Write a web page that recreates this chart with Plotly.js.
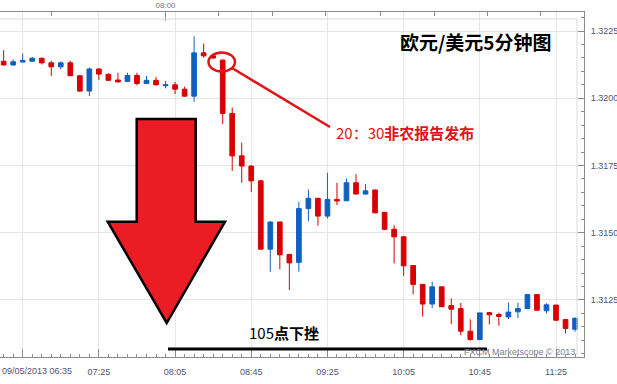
<!DOCTYPE html>
<html>
<head>
<meta charset="utf-8">
<script src="https://cdn.plot.ly/plotly-3.0.1.min.js"></script>
<style>
  html, body { margin: 0; padding: 0; background: #fff; }
  #chart { width: 617px; height: 384px; }
</style>
</head>
<body>
<div id="chart"></div>
<script>
// EUR/USD 5-minute bars, 9 May 2013
const day = '2013-05-09';
const times = [
  '06:35','06:40','06:45','06:50','06:55','07:00','07:05','07:10','07:15','07:20',
  '07:25','07:30','07:35','07:40','07:45','07:50','07:55','08:00','08:05','08:10',
  '08:15','08:20','08:25','08:30','08:35','08:40','08:45','08:50','08:55','09:00',
  '09:05','09:10','09:15','09:20','09:25','09:30','09:35','09:40','09:45','09:50',
  '09:55','10:00','10:05','10:10','10:15','10:20','10:25','10:30','10:35','10:40',
  '10:45','10:50','10:55','11:00','11:05','11:10','11:15','11:20','11:25','11:30',
  '11:35'
];
const open = [
  1.32138,1.32124,1.32135,1.32138,1.32149,1.32132,1.32117,1.32132,1.32084,1.32027,
  1.32109,1.32089,1.32068,1.32063,1.32085,1.32055,1.32067,1.32047,1.32050,1.32034,
  1.32008,1.32169,1.32158,1.32142,1.31944,1.31786,1.31748,1.31693,1.31439,1.31540,
  1.31419,1.31390,1.31590,1.31628,1.31562,1.31624,1.31619,1.31686,1.31644,1.31659,
  1.31576,1.31513,1.31485,1.31378,1.31308,1.31235,1.31299,1.31229,1.31218,1.31134,
  1.31103,1.31203,1.31196,1.31187,1.31206,1.31218,1.31270,1.31210,1.31231,1.31177,
  1.31141
];
const high = [
  1.32179,1.32145,1.32167,1.32154,1.32151,1.32140,1.32137,1.32140,1.32086,1.32114,
  1.32111,1.32093,1.32095,1.32095,1.32095,1.32083,1.32080,1.32064,1.32061,1.32043,
  1.32231,1.32204,1.32166,1.32145,1.31966,1.31835,1.31752,1.31696,1.31542,1.31542,
  1.31423,1.31615,1.31661,1.31630,1.31723,1.31686,1.31702,1.31718,1.31681,1.31661,
  1.31577,1.31528,1.31487,1.31379,1.31309,1.31318,1.31300,1.31256,1.31239,1.31178,
  1.31203,1.31205,1.31203,1.31241,1.31240,1.31272,1.31272,1.31238,1.31232,1.31179,
  1.31185
];
const low = [
  1.32122,1.32121,1.32134,1.32137,1.32126,1.32083,1.32108,1.32083,1.32023,1.32008,
  1.32068,1.32064,1.32060,1.32060,1.32048,1.32053,1.32048,1.32037,1.32016,1.32006,
  1.31987,1.32151,1.32147,1.31904,1.31730,1.31686,1.31652,1.31437,1.31355,1.31364,
  1.31287,1.31355,1.31543,1.31526,1.31553,1.31603,1.31618,1.31642,1.31642,1.31573,
  1.31510,1.31386,1.31340,1.31271,1.31188,1.31220,1.31224,1.31160,1.31119,1.31098,
  1.31100,1.31159,1.31154,1.31179,1.31183,1.31217,1.31211,1.31200,1.31171,1.31126,
  1.31132
];
const close = [
  1.32124,1.32136,1.32141,1.32149,1.32132,1.32117,1.32132,1.32084,1.32027,1.32109,
  1.32090,1.32067,1.32061,1.32085,1.32055,1.32067,1.32050,1.32050,1.32034,1.32008,
  1.32169,1.32158,1.32150,1.31944,1.31786,1.31748,1.31693,1.31439,1.31540,1.31418,
  1.31388,1.31590,1.31628,1.31562,1.31624,1.31618,1.31686,1.31644,1.31656,1.31574,
  1.31513,1.31485,1.31377,1.31308,1.31235,1.31299,1.31225,1.31216,1.31134,1.31103,
  1.31202,1.31195,1.31189,1.31205,1.31218,1.31270,1.31212,1.31232,1.31175,1.31144,
  1.31182
];

// axis ticks
const priceTicks = [1.3125, 1.3150, 1.3175, 1.3200, 1.3225];
const bottomTicks = ['06:45','07:25','08:05','08:45','09:25','10:05','10:45','11:25'];
const bottomLabels = ['','07:25','08:05','08:45','09:25','10:05','10:45','11:25'];
const topTick = ['08:00'];
const topMinorTicks = ['07:00','08:28','08:56','09:24','09:53','10:21','10:49','11:17'];
const firstLabel = '09/05/2013 06:35';

const at = t => day + ' ' + t;
const xs = times.map(at);

const RED = '#d80000';
const BLUE = '#1060c0';
const AXIS = '#8c8c8c';
const GRID = '#e6e6e6';
const LABEL = '#4f5376';
const tickFont = {family: 'Liberation Sans, Arial, sans-serif', size: 9, color: LABEL};

// plot frame in pixels (used to place the drawn callouts)
const W = 617, H = 384, L = 0, R = 584, T = 12, B = 357;
const px = x => (x - L) / (R - L);
const py = y => (B - y) / (B - T);

const xRange = [day + ' 06:33:05', day + ' 11:39:42'];
const yRange = [1.31038, 1.32321];

const candles = {
  type: 'candlestick',
  x: xs, open: open, high: high, low: low, close: close,
  increasing: {line: {color: BLUE, width: 1}, fillcolor: BLUE},
  decreasing: {line: {color: RED, width: 1}, fillcolor: RED},
  whiskerwidth: 0,
  hoverinfo: 'x+y',
  showlegend: false
};
const topAxisHolder = {
  type: 'scatter', x: [], y: [], xaxis: 'x2', yaxis: 'y',
  mode: 'none', showlegend: false, hoverinfo: 'skip'
};

// down arrow outline (pixel vertices)
const arrowPts = [[136.7,119],[195.7,119],[195.7,221.7],[225,221.7],[166.7,323],[107.7,221.7],[136.7,221.7]];
const arrowPath = 'M ' + arrowPts.map(p => px(p[0]).toFixed(5) + ',' + py(p[1]).toFixed(5)).join(' L ') + ' Z';

const shapes = [
  // inner plot border
  {type: 'line', xref: 'paper', yref: 'paper', x0: px(0), x1: px(577), y0: py(19), y1: py(19), line: {color: '#dadada', width: 1}},
  {type: 'line', xref: 'paper', yref: 'paper', x0: px(577), x1: px(577), y0: py(19), y1: py(355), line: {color: '#dadada', width: 1}},
  // big red arrow
  {type: 'path', xref: 'paper', yref: 'paper', path: arrowPath, fillcolor: '#ec1c24', line: {color: '#000', width: 2.5}, layer: 'above'},
  // circle on the 08:30 bar and the pointer line
  {type: 'circle', xref: 'paper', yref: 'paper', x0: px(208.5), x1: px(235), y0: py(52.5), y1: py(71.5), line: {color: '#e01418', width: 2.5}},
  {type: 'line', xref: 'paper', yref: 'paper', x0: px(232), y0: py(68), x1: px(330), y1: py(127), line: {color: '#e01418', width: 2.5}},
  // drop span line
  {type: 'line', xref: 'paper', yref: 'paper', x0: px(168), x1: px(487), y0: py(349), y1: py(349), line: {color: '#000', width: 3}}
];

const cjk = 'Noto Sans CJK SC, Liberation Sans, sans-serif';
const annotations = [
  {xref: 'paper', yref: 'paper', x: px(476), y: py(41), xanchor: 'center', yanchor: 'middle', showarrow: false,
   text: '<b>欧元/美元5分钟图</b>', font: {family: cjk, size: 19, color: '#000'}},
  {xref: 'paper', yref: 'paper', x: px(334), y: py(132), xanchor: 'left', yanchor: 'middle', showarrow: false,
   text: '20：30<b>非农报告发布</b>', font: {family: cjk, size: 15, color: '#e01418'}},
  {xref: 'paper', yref: 'paper', x: px(247), y: py(332), xanchor: 'left', yanchor: 'middle', showarrow: false,
   text: '105<b>点下挫</b>', font: {family: cjk, size: 15, color: '#000'}},
  {xref: 'paper', yref: 'paper', x: px(577), y: py(352), xanchor: 'right', yanchor: 'middle', showarrow: false,
   text: 'FXCM Marketscope © 2013', font: {family: 'Liberation Sans, Arial, sans-serif', size: 9, color: '#7c7f95'}},
  {xref: 'paper', yref: 'paper', x: px(0), y: py(371), xanchor: 'left', yanchor: 'middle', showarrow: false,
   text: firstLabel, font: tickFont}
];

const layout = {
  width: W, height: H,
  margin: {l: L, r: W - R, t: T, b: H - B, pad: 0},
  paper_bgcolor: '#fff', plot_bgcolor: '#fff',
  showlegend: false,
  xaxis: {
    type: 'date', range: xRange, rangeslider: {visible: false},
    tickmode: 'array', tickvals: bottomTicks.map(at), ticktext: bottomLabels,
    ticks: 'inside', ticklen: 8, tickcolor: AXIS, tickwidth: 1,
    minor: {dtick: 300000, tick0: at('06:35'), ticks: 'inside', ticklen: 3, tickcolor: AXIS, showgrid: false},
    showline: true, linecolor: AXIS, linewidth: 1,
    showgrid: true, gridcolor: GRID, gridwidth: 1,
    zeroline: false, tickfont: tickFont, ticklabelstandoff: 6
  },
  xaxis2: {
    type: 'date', overlaying: 'x', matches: 'x', side: 'top', anchor: 'y',
    tickmode: 'array', tickvals: topTick.map(at), ticktext: topTick,
    ticks: 'inside', ticklen: 9, tickcolor: AXIS,
    minor: {tickmode: 'array', tickvals: topMinorTicks.map(at), ticks: 'inside', ticklen: 4, tickcolor: AXIS, showgrid: false},
    showline: true, linecolor: AXIS, linewidth: 1, showgrid: false, zeroline: false,
    tickfont: {family: 'Liberation Sans, Arial, sans-serif', size: 8, color: '#777'}
  },
  yaxis: {
    side: 'right', range: yRange, fixedrange: true,
    tickmode: 'array', tickvals: priceTicks, tickformat: '.4f',
    ticks: 'inside', ticklen: 6, tickcolor: AXIS,
    minor: {dtick: 0.0005, tick0: 1.3125, ticks: 'inside', ticklen: 3, tickcolor: AXIS, showgrid: false},
    showline: true, linecolor: AXIS, linewidth: 1,
    showgrid: true, gridcolor: GRID, zeroline: false,
    tickfont: tickFont, ticklabelstandoff: 4
  },
  shapes: shapes,
  annotations: annotations
};

Plotly.newPlot('chart', [candles, topAxisHolder], layout, {displayModeBar: false, staticPlot: true});
</script>
</body>
</html>
